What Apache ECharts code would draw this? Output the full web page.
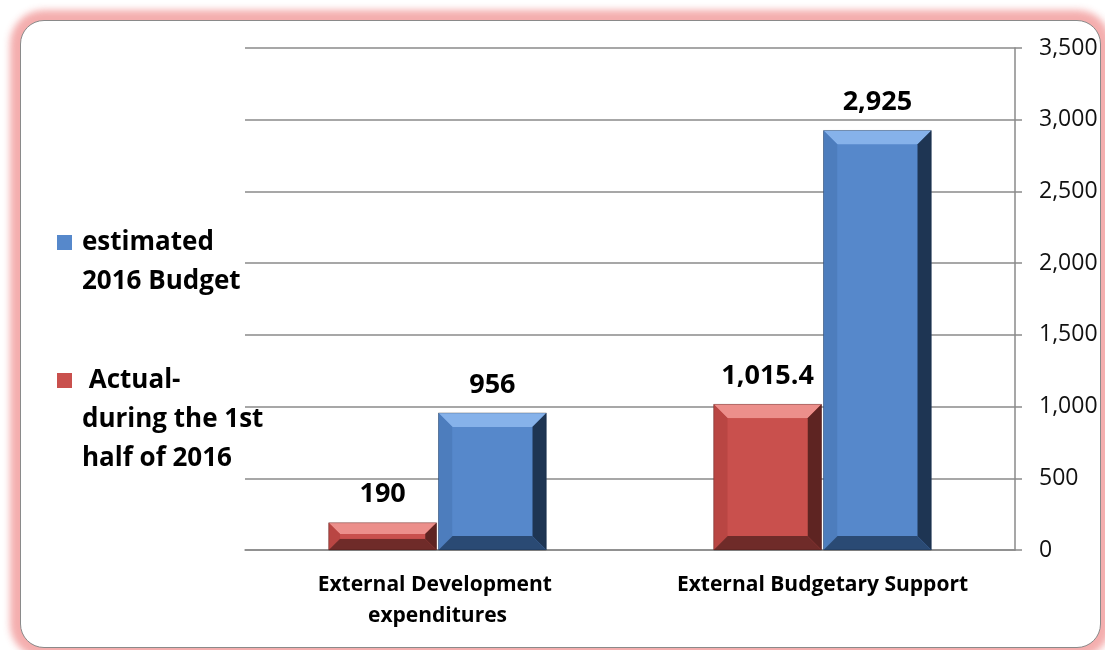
<!DOCTYPE html>
<html>
<head>
<meta charset="utf-8">
<script src="https://cdn.jsdelivr.net/npm/echarts@6/dist/echarts.min.js"></script>
<style>
  html, body { margin: 0; padding: 0; background: #fff; }
  .frame {
    position: absolute; left: 20px; top: 20px; width: 1079px; height: 626px;
    border: 1.5px solid #8a8a8a; border-radius: 24px;
    box-shadow: 0 0 7px 10px rgba(242, 160, 160, 0.85);
    background: #fff;
  }
  #chart { position: absolute; left: 0; top: 0; width: 1105px; height: 650px; }
</style>
</head>
<body>
<div class="frame"></div>
<div id="chart"></div>
<script>
// chart data
var categories = ['External Development expenditures', 'External Budgetary Support'];
var actualName = 'Actual- during the 1st half of 2016';
var estimatedName = 'estimated 2016 Budget';
var actualValues = [190, 1015.4];
var estimatedValues = [956, 2925];
var yTicks = [0, 500, 1000, 1500, 2000, 2500, 3000, 3500];

// legend text, as wrapped in the picture
var legendLines = {};
legendLines[estimatedName] = ['estimated', '2016 Budget'];
legendLines[actualName] = [' Actual-', 'during the 1st', 'half of 2016'];

// bevel colours: face, top, left, right, bottom
var redPal = ['#c9504d', '#ec8f8b', '#b94643', '#5e2422', '#6f2b29'];
var bluePal = ['#5688cb', '#86b2ea', '#4d7dbd', '#1e3553', '#2a4a74'];

function fmt(v) {
  return v.toLocaleString('en-US', { maximumFractionDigits: 1 });
}

function bevelBar(left, pal) {
  return function (params, api) {
    var cat = api.value(0), val = api.value(1);
    var top = api.coord([cat, val]);
    var base = api.coord([cat, 0]);
    var band = api.size([1, 0])[0];
    var w = band * 0.28;
    var x = left ? top[0] - w - 1 : top[0] + 1;
    var y = top[1], h = base[1] - top[1];
    var b = Math.min(14, h / 2.4);
    return {
      type: 'group',
      children: [
        { type: 'rect', shape: { x: x, y: y, width: w, height: h }, style: { fill: pal[0] } },
        { type: 'polygon', shape: { points: [[x, y], [x + w, y], [x + w - b, y + b], [x + b, y + b]] }, style: { fill: pal[1] } },
        { type: 'polygon', shape: { points: [[x, y], [x + b, y + b], [x + b, y + h - b], [x, y + h]] }, style: { fill: pal[2] } },
        { type: 'polygon', shape: { points: [[x + w, y], [x + w, y + h], [x + w - b, y + h - b], [x + w - b, y + b]] }, style: { fill: pal[3] } },
        { type: 'polygon', shape: { points: [[x, y + h], [x + b, y + h - b], [x + w - b, y + h - b], [x + w, y + h]] }, style: { fill: pal[4] } },
        { type: 'rect', shape: { x: x + b, y: y + b, width: w - 2 * b, height: h - 2 * b }, style: { fill: pal[0] } },
        { type: 'rect', shape: { x: x, y: y, width: w, height: h }, style: { fill: 'none', stroke: 'rgba(0,0,0,0.25)', lineWidth: 1 } },
        { type: 'text', x: x + w / 2, y: y - 28,
          style: { text: fmt(val), fontFamily: 'Open Sans', fontWeight: 'bold', fontSize: 27, fill: '#000', align: 'center', verticalAlign: 'middle' } }
      ]
    };
  };
}

function legendText(name) {
  // leading blank lines keep the first line level with the icon
  var lines = legendLines[name];
  var pad = [];
  for (var i = 1; i < lines.length; i++) pad.push('');
  return pad.concat(lines).join('\n');
}

var legendFont = { fontFamily: 'Open Sans', fontWeight: 'bold', fontSize: 26, lineHeight: 39, color: '#000', padding: [0, 0, 0, 5] };

var myChart = echarts.init(document.getElementById('chart'));
myChart.setOption({
  animation: false,
  grid: { left: 245, right: 90, top: 48, bottom: 100 },
  legend: [
    {
      data: [estimatedName], orient: 'vertical', left: 57, top: 240 - 39 - 17, padding: 0,
      itemWidth: 15, itemHeight: 15, icon: 'rect', formatter: legendText, textStyle: legendFont
    },
    {
      data: [actualName], orient: 'vertical', left: 57, top: 378 - 78 - 17, padding: 0,
      itemWidth: 15, itemHeight: 15, icon: 'rect', formatter: legendText, textStyle: legendFont
    }
  ],
  xAxis: {
    type: 'category',
    data: categories,
    axisLine: { lineStyle: { color: '#8a8a8a', width: 1.5 } },
    axisTick: { length: 8, lineStyle: { color: '#8a8a8a', width: 1.5 } },
    axisLabel: {
      color: '#000', fontFamily: 'Open Sans', fontWeight: 'bold', fontSize: 21,
      lineHeight: 31, margin: 20, width: 345, overflow: 'break', interval: 0
    }
  },
  yAxis: {
    type: 'value',
    position: 'right',
    min: yTicks[0],
    max: yTicks[yTicks.length - 1],
    interval: yTicks[1] - yTicks[0],
    axisLine: { show: true, lineStyle: { color: '#8a8a8a', width: 1.5 } },
    axisTick: { show: true, length: 7, lineStyle: { color: '#8a8a8a', width: 1.5 } },
    splitLine: { lineStyle: { color: '#8a8a8a', width: 1.5 } },
    axisLabel: { color: '#111', fontFamily: 'Open Sans', fontSize: 23, margin: 24, formatter: fmt }
  },
  series: [
    {
      name: actualName, type: 'custom', renderItem: bevelBar(true, redPal),
      itemStyle: { color: redPal[0] }, encode: { x: 0, y: 1 },
      data: actualValues.map(function (v, i) { return [i, v]; })
    },
    {
      name: estimatedName, type: 'custom', renderItem: bevelBar(false, bluePal),
      itemStyle: { color: bluePal[0] }, encode: { x: 0, y: 1 },
      data: estimatedValues.map(function (v, i) { return [i, v]; })
    }
  ]
});
</script>
</body>
</html>
